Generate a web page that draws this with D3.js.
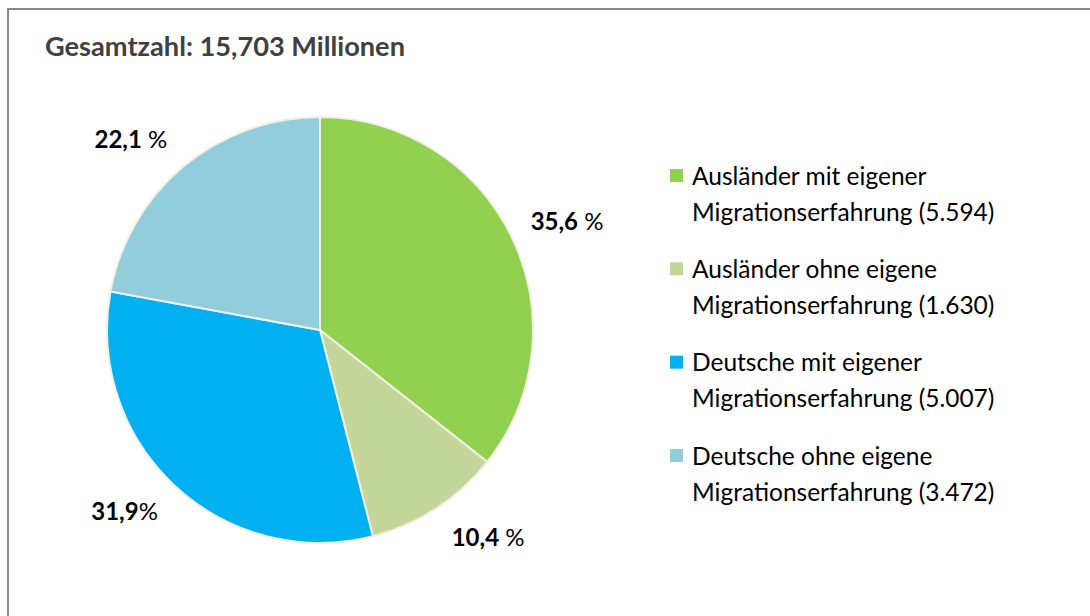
<!DOCTYPE html>
<html>
<head>
<meta charset="utf-8">
<script src="https://cdn.jsdelivr.net/npm/d3@7"></script>
<style>
  body { margin: 0; background: #fff; }
  svg { display: block; font-family: Lato, "Open Sans", sans-serif; }
</style>
</head>
<body>
<svg id="chart" width="1090" height="616"></svg>
<script>
// data (Tausend)
const categories = [
  'Ausländer mit eigener',
  'Ausländer ohne eigene',
  'Deutsche mit eigener',
  'Deutsche ohne eigene'
];
const values = [5.594, 1.630, 5.007, 3.472];
const valueLabels = ['5.594', '1.630', '5.007', '3.472'];
const percentLabels = ['35,6', '10,4', '31,9', '22,1'];
const percentSuffix = [' %', ' %', '%', ' %'];
const colors = ['#92d050', '#c4d79b', '#00b0f0', '#92cddc'];

const svg = d3.select('#chart');

// frame
svg.append('rect')
  .attr('x', 8).attr('y', 9)
  .attr('width', 1100).attr('height', 640)
  .attr('fill', 'none')
  .attr('stroke', '#888')
  .attr('stroke-width', 2);

svg.append('text')
  .attr('x', 45).attr('y', 56)
  .attr('fill', '#404040')
  .attr('font-weight', 'bold')
  .attr('font-size', 27.2)
  .text('Gesamtzahl: 15,703 Millionen');

const cx = 320, cy = 330, r = 213;

const pie = d3.pie().sort(null).value(d => d)(values);
const arc = d3.arc().innerRadius(0).outerRadius(r);
const labelArc = d3.arc().innerRadius(r + 10).outerRadius(r + 10);

const g = svg.append('g').attr('transform', `translate(${cx},${cy})`);

g.selectAll('path')
  .data(pie)
  .join('path')
  .attr('d', arc)
  .attr('fill', (d, i) => colors[i])
  .attr('stroke', '#f2efe6')
  .attr('stroke-width', 2);

// percentage labels, placed outside the slice end like Excel does
const mid = d => (d.startAngle + d.endAngle) / 2;
const lbl = g.selectAll('text.pct')
  .data(pie)
  .join('text')
  .attr('class', 'pct')
  .attr('transform', d => {
    const [x, y] = labelArc.centroid(d);
    const a = mid(d);
    return `translate(${x + Math.sign(Math.sin(a)) * 10},${y - Math.cos(a) * 25})`;
  })
  .attr('text-anchor', d => Math.sin(mid(d)) > 0 ? 'start' : 'end')
  .attr('dy', '0.35em')
  .attr('font-size', 24)
  .attr('fill', '#000');

lbl.append('tspan').attr('font-weight', 'bold').text((d, i) => percentLabels[i]);
lbl.append('tspan').text((d, i) => percentSuffix[i]);

// legend
const legend = svg.append('g').attr('transform', 'translate(670,0)');
const rowY = d3.scalePoint().domain(d3.range(categories.length)).range([176, 456]);

const item = legend.selectAll('g')
  .data(categories)
  .join('g')
  .attr('transform', (d, i) => `translate(0,${rowY(i)})`);

item.append('rect')
  .attr('x', 0).attr('y', -7)
  .attr('width', 13).attr('height', 13)
  .attr('fill', (d, i) => colors[i]);

const t = item.append('text')
  .attr('font-size', 24.5)
  .attr('fill', '#000');
t.append('tspan').attr('x', 22).attr('dy', '0.35em').text(d => d);
t.append('tspan').attr('x', 22).attr('dy', 36)
  .text((d, i) => `Migrationserfahrung (${valueLabels[i]})`);
</script>
</body>
</html>
